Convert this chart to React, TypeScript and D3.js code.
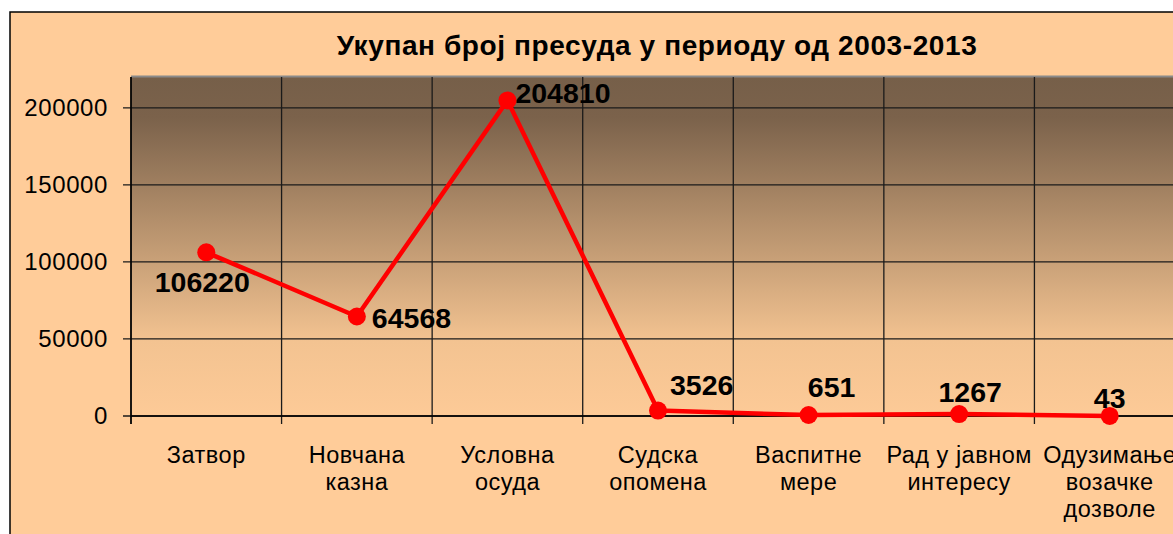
import React from "react";
import * as d3 from "d3";

const title = "Укупан број пресуда у периоду од 2003-2013";
const categories: string[][] = [
  ["Затвор"],
  ["Новчана", "казна"],
  ["Условна", "осуда"],
  ["Судска", "опомена"],
  ["Васпитне", "мере"],
  ["Рад у јавном", "интересу"],
  ["Одузимање", "возачке", "дозволе"],
];
const values = [106220, 64568, 204810, 3526, 651, 1267, 43];
const yTicks = [0, 50000, 100000, 150000, 200000];
// label placement relative to point: [dx, dy, anchor]
const labelOffsets: [number, number, string][] = [
  [-4, 40, "middle"],
  [15, 11, "start"],
  [8, 3, "start"],
  [12, -16, "start"],
  [23, -18, "middle"],
  [11, -12, "middle"],
  [0, -8, "middle"],
];

const W = 1173;
const H = 534;
const plot = { left: 131, top: 77, bottom: 416, right: 1185 };

export default function App() {
  const x = d3
    .scaleBand<number>()
    .domain(categories.map((_, i) => i))
    .range([plot.left, plot.right])
    .padding(0);
  const y = d3.scaleLinear().domain([0, 220000]).range([plot.bottom, plot.top]);
  const cx = (i: number) => (x(i) as number) + x.bandwidth() / 2;
  const line = d3
    .line<number>()
    .x((_, i) => cx(i))
    .y((d) => y(d));
  const font = "'Liberation Sans', Arial, sans-serif";

  return (
    <svg
      width={W}
      height={H}
      style={{ position: "absolute", left: 0, top: 0, display: "block" }}
      fontFamily={font}
    >
      <defs>
        <linearGradient id="bg" x1="0" y1="0" x2="0" y2="1">
          <stop offset="0" stopColor="#765f49" />
          <stop offset="0.12" stopColor="#7b624b" />
          <stop offset="0.45" stopColor="#b8936e" />
          <stop offset="0.78" stopColor="#f3c391" />
          <stop offset="1" stopColor="#fdca97" />
        </linearGradient>
      </defs>
      <rect x={0} y={0} width={W} height={H} fill="#ffffff" />
      <rect x={10} y={12} width={W + 20} height={H} fill="#ffcc99" stroke="#000" strokeWidth={1.5} />
      <text x={657} y={55} textAnchor="middle" fontSize={28} letterSpacing={0.6} fontWeight="bold" fill="#000">
        {title}
      </text>
      <rect
        x={plot.left}
        y={plot.top}
        width={plot.right - plot.left}
        height={plot.bottom - plot.top}
        fill="url(#bg)"
      />
      <line x1={plot.left} x2={plot.right} y1={plot.top - 0.5} y2={plot.top - 0.5} stroke="#8a8a8a" strokeWidth={2} />
      {yTicks.map((t) => (
        <g key={t}>
          <line x1={plot.left - 8} x2={plot.right} y1={y(t)} y2={y(t)} stroke="#1a1a1a" strokeWidth={1.3} />
          <text x={108} y={y(t) + 8} textAnchor="end" fontSize={24} letterSpacing={0.6} fill="#000">
            {t}
          </text>
        </g>
      ))}
      {categories.map((_, i) => (
        <line
          key={i}
          x1={x(i) as number}
          x2={x(i) as number}
          y1={plot.top}
          y2={plot.bottom + 8}
          stroke="#1a1a1a"
          strokeWidth={1.3}
        />
      ))}
      <line x1={plot.left} x2={plot.left} y1={plot.top} y2={plot.bottom + 8} stroke="#000" strokeWidth={1.5} />
      <line x1={plot.left} x2={plot.right} y1={plot.bottom} y2={plot.bottom} stroke="#000" strokeWidth={1.5} />
      {categories.map((lines, i) => (
        <text key={i} x={cx(i)} y={463} textAnchor="middle" fontSize={23.5} letterSpacing={0.5} fill="#000">
          {lines.map((l, j) => (
            <tspan key={j} x={cx(i)} dy={j === 0 ? 0 : 27}>
              {l}
            </tspan>
          ))}
        </text>
      ))}
      <path d={line(values) || ""} fill="none" stroke="#ff0000" strokeWidth={4.5} strokeLinejoin="round" />
      {values.map((v, i) => (
        <circle key={i} cx={cx(i)} cy={y(v)} r={9} fill="#ff0000" />
      ))}
      {values.map((v, i) => {
        const [dx, dy, anchor] = labelOffsets[i];
        return (
          <text
            key={i}
            x={cx(i) + dx}
            y={y(v) + dy}
            textAnchor={anchor as any}
            fontSize={28.5}
            fontWeight="bold"
            fill="#000"
          >
            {v}
          </text>
        );
      })}
    </svg>
  );
}
